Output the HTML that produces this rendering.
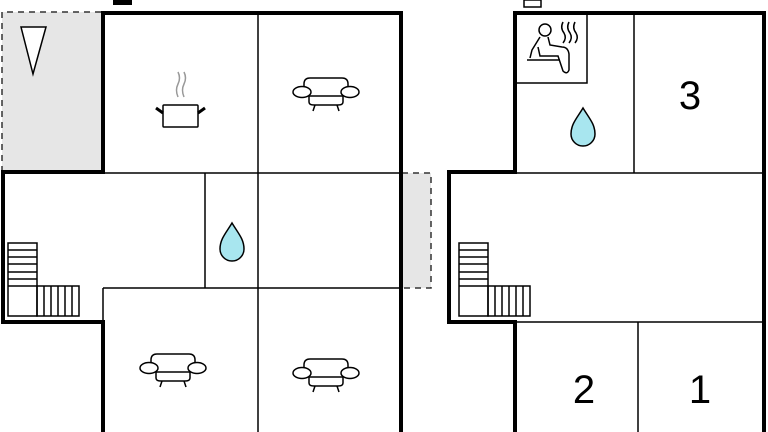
<!DOCTYPE html>
<html><head><meta charset="utf-8"><style>
html,body{margin:0;padding:0;background:#fff;width:768px;height:432px;overflow:hidden}
svg{display:block}
</style></head><body>
<svg width="768" height="432" viewBox="0 0 768 432" xmlns="http://www.w3.org/2000/svg">
<defs>
<g id="sofa" fill="#fff" stroke="#000" stroke-width="1.5">
  <path d="M-22,4 L-22,-8 Q-22,-14 -16,-14 L16,-14 Q22,-14 22,-8 L22,4"/>
  <path d="M-17,4 L-17,10 Q-17,13 -12,13 L12,13 Q17,13 17,10 L17,4"/>
  <line x1="-17" y1="4" x2="17" y2="4"/>
  <ellipse cx="-24" cy="0" rx="9" ry="5.5"/>
  <ellipse cx="24" cy="0" rx="9" ry="5.5"/>
  <line x1="-11" y1="13" x2="-13" y2="19"/>
  <line x1="11" y1="13" x2="13" y2="19"/>
</g>
<g id="drop"><path d="M0,-24 C-6,-14 -12,-8 -12,2 A12,12 0 0 0 12,2 C12,-8 6,-14 0,-24 Z" fill="#a8e6ef" stroke="#000" stroke-width="1.5"/></g>
<g id="stairs" fill="none" stroke="#000" stroke-width="1.5">
  <rect x="0" y="0" width="29" height="73"/>
  <rect x="29" y="43" width="42" height="30"/>
  <line x1="0" y1="7" x2="29" y2="7"/><line x1="0" y1="14" x2="29" y2="14"/>
  <line x1="0" y1="21" x2="29" y2="21"/><line x1="0" y1="29" x2="29" y2="29"/>
  <line x1="0" y1="36" x2="29" y2="36"/><line x1="0" y1="43" x2="29" y2="43"/>
  <line x1="36" y1="43" x2="36" y2="73"/><line x1="43" y1="43" x2="43" y2="73"/>
  <line x1="50" y1="43" x2="50" y2="73"/><line x1="57" y1="43" x2="57" y2="73"/>
  <line x1="64" y1="43" x2="64" y2="73"/>
</g>
</defs>

<!-- LEFT PLAN -->
<rect x="2" y="12" width="101" height="160" fill="#e6e6e6"/>
<rect x="402" y="173" width="29" height="115" fill="#e6e6e6"/>
<path d="M2,172 L2,12 L103,12" fill="none" stroke="#333" stroke-width="1.5" stroke-dasharray="6,5"/>
<path d="M402,173 L431,173 L431,288 L402,288" fill="none" stroke="#333" stroke-width="1.5" stroke-dasharray="6,5"/>
<rect x="113" y="0" width="19" height="5" fill="#000"/>
<polygon points="21,27 46,27 33,74" fill="#fff" stroke="#000" stroke-width="1.5"/>

<g stroke="#000" stroke-width="1.5" fill="none">
  <line x1="258" y1="13" x2="258" y2="432"/>
  <line x1="103" y1="173" x2="401" y2="173"/>
  <line x1="205" y1="173" x2="205" y2="288"/>
  <line x1="103" y1="288" x2="401" y2="288"/>
  <line x1="103" y1="288" x2="103" y2="322"/>
</g>
<path d="M103,432 L103,322 L3,322 L3,172 L103,172 L103,13 L401,13 L401,432" fill="none" stroke="#000" stroke-width="4"/>

<use href="#stairs" x="8" y="243"/>
<!-- pot -->
<g stroke="#000" stroke-width="1.5" fill="#fff">
  <rect x="163" y="105" width="35" height="22" rx="1"/>
  <line x1="163" y1="113" x2="156" y2="108" stroke-width="3"/>
  <line x1="198" y1="113" x2="205" y2="108" stroke-width="3"/>
</g>
<g stroke="#999" stroke-width="1.5" fill="none">
  <path d="M178,97 Q175,90 178,84 Q181,78 178,72"/>
  <path d="M184,97 Q181,90 184,84 Q187,78 184,72"/>
</g>
<use href="#sofa" x="326" y="92"/>
<use href="#sofa" x="173" y="368"/>
<use href="#sofa" x="326" y="373"/>
<use href="#drop" x="232" y="247"/>

<!-- RIGHT PLAN -->
<rect x="524" y="0" width="17" height="7" fill="#fff" stroke="#000" stroke-width="1.5"/>
<g stroke="#000" stroke-width="1.5" fill="none">
  <line x1="634" y1="13" x2="634" y2="173"/>
  <line x1="515" y1="173" x2="764" y2="173"/>
  <line x1="515" y1="322" x2="764" y2="322"/>
  <line x1="638" y1="322" x2="638" y2="432"/>
  <path d="M515,83 L587,83 L587,13"/>
</g>
<path d="M515,432 L515,322 L449,322 L449,172 L515,172 L515,13 L764,13 L764,432" fill="none" stroke="#000" stroke-width="4"/>
<!-- sauna -->
<g stroke="#000" stroke-width="1.5" fill="none">
  <circle cx="545" cy="30" r="6"/>
  <path d="M540,37 L532,50 L530,58 M548,37 L550,45 L562,47 Q568,47 569,54 L569,70 Q567,75 563,71 L558,56 L540,56 L538,47"/>
  <line x1="527" y1="60" x2="560" y2="60"/>
  <path d="M563,22 Q560,28 564,33 Q567,38 563,43"/>
  <path d="M569,22 Q566,28 570,33 Q573,38 569,43"/>
  <path d="M575,22 Q572,28 576,33 Q579,38 575,43"/>
</g>
<use href="#drop" x="583" y="132"/>
<use href="#stairs" x="459" y="243"/>
<g font-family="Liberation Sans, sans-serif" font-size="40" fill="#000" text-anchor="middle">
  <text x="690" y="109">3</text>
  <text x="584" y="403">2</text>
  <text x="700" y="403">1</text>
</g>
</svg>
</body></html>
